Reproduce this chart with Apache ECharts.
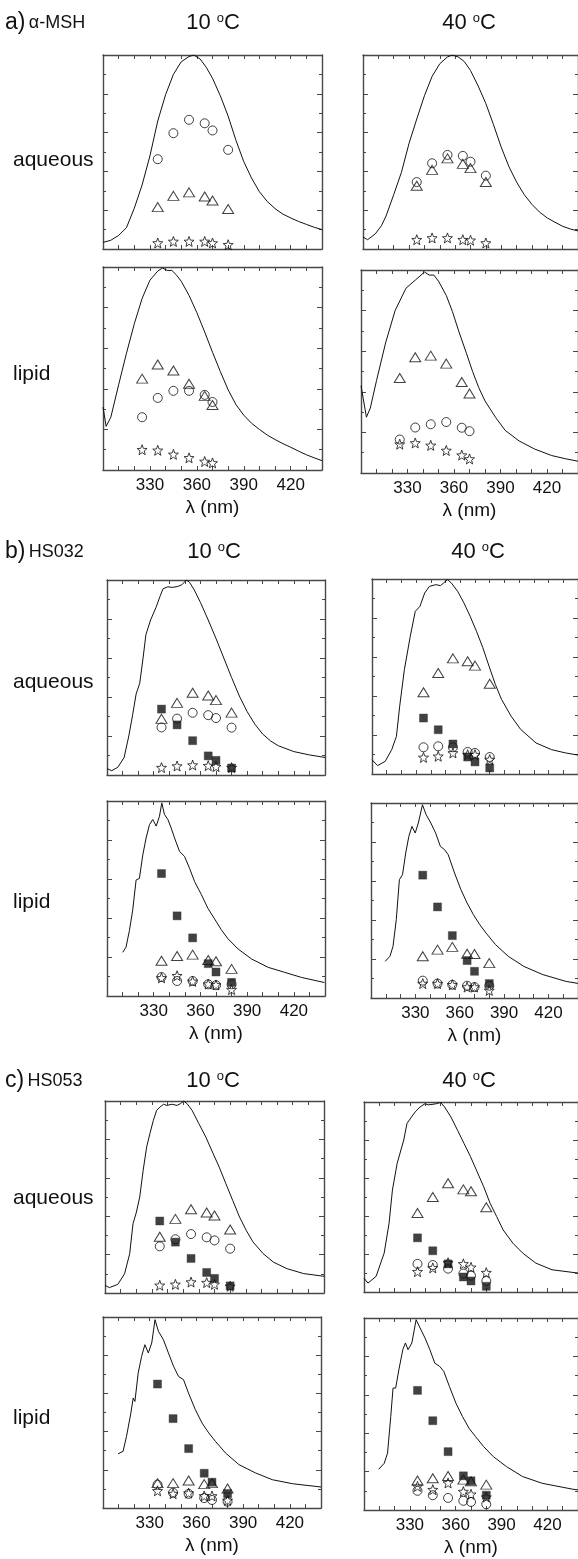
<!DOCTYPE html>
<html><head><meta charset="utf-8">
<script src="https://cdn.jsdelivr.net/npm/echarts@6/dist/echarts.min.js"></script>
<style>html,body{margin:0;padding:0;background:#fff}#c{width:578px;height:1559px}</style>
</head><body><div id="c"></div>
<script>
// ---------------- DATA ----------------
const xTickLabels = [330, 360, 390, 420];
const wlAaq = [335, 345, 355, 365, 370, 380];
const wlAlip = [325, 335, 345, 355, 365, 370];
const wlBC = [335, 345, 355, 365, 370, 380];

// a) alpha-MSH, aqueous 10 C
const aAq10Wl = [300,305,310,315,320,325,330,335,340,345,350,355,358,362,366,370,375,380,385,390,395,400,405,410,415,420,425,430,435,440];
const aAq10I  = [0.34,0.45,0.7,1.1,2.1,3.3,4.8,6.6,7.95,9.0,9.65,9.92,10,9.8,9.37,8.8,7.9,6.85,5.6,4.5,3.65,2.95,2.45,2.08,1.8,1.6,1.42,1.27,1.12,1.0];
const aAq10Circ = [4.63,5.97,6.66,6.48,6.11,5.11];
const aAq10Tri  = [2.16,2.74,2.92,2.71,2.50,2.06];
const aAq10Star = [0.31,0.39,0.39,0.39,0.31,0.22];
// a) aqueous 40 C
const aAq40Wl = [300,303,308,312,315,320,325,330,335,340,345,350,355,358,362,366,370,375,380,385,390,395,400,405,410,415,420,425,430,435,440];
const aAq40I  = [0.62,0.48,0.78,1.2,1.7,2.8,3.95,5.45,6.7,7.9,8.9,9.55,9.9,10,9.9,9.66,9.2,8.4,7.5,6.4,5.25,4.25,3.45,2.8,2.3,1.9,1.6,1.38,1.17,1.03,0.93];
const aAq40Circ = [3.45,4.42,4.85,4.8,4.5,3.78];
const aAq40Tri  = [3.26,4.08,4.67,4.39,4.17,3.45];
const aAq40Star = [0.48,0.57,0.57,0.48,0.45,0.31];
// a) lipid 10 C
const aLip10Wl = [300,302,305,310,315,320,325,330,335,338,341,344,347,350,355,360,365,370,375,380,385,390,395,400,405,410,415,420,425,430,435,440];
const aLip10I  = [3.1,2.15,2.6,4.2,5.75,7.2,8.45,9.35,9.8,9.95,9.83,9.83,9.6,9.3,8.6,7.75,6.8,5.8,4.85,3.95,3.22,2.7,2.3,2.0,1.72,1.5,1.3,1.12,0.93,0.75,0.6,0.46];
const aLip10Tri  = [4.5,5.2,4.9,4.25,3.65,3.2];
const aLip10Circ = [2.6,3.55,3.9,3.9,3.7,3.35];
const aLip10Star = [1.0,0.97,0.77,0.6,0.42,0.35];
// a) lipid 40 C
const aLip40Wl = [300,303.5,306,310,316,322,329,335,341,344,347,350,355,359,363,368,372,376,380,387,393,402,412,423,432,440];
const aLip40I  = [4.3,2.75,3.2,4.55,6.45,8.0,9.1,9.5,9.9,9.75,9.75,9.45,8.75,7.95,7.0,5.9,5.0,4.2,3.55,2.72,2.1,1.58,1.18,0.86,0.7,0.58];
const aLip40Tri  = [4.68,5.7,5.78,5.39,4.48,3.92];
const aLip40Circ = [1.65,2.24,2.4,2.51,2.23,2.06];
const aLip40Star = [1.42,1.48,1.36,1.11,0.88,0.69];

// b) HS032 aqueous 10 C
const bAq10Wl = [300,303,307,311,314,316.5,318.7,321,323,325,328,331.5,334,336,339,342,345.5,348,351,353,356,360,365,370,375,380,385,390,395,400,405,410,420,430,440];
const bAq10I  = [0.33,0.22,0.4,0.9,2.0,3.1,4.15,4.7,5.9,7.2,7.95,8.6,9.15,9.55,9.65,9.62,9.67,9.75,10,9.88,9.5,8.85,7.95,7.0,6.0,5.0,4.05,3.25,2.6,2.1,1.75,1.5,1.2,1.03,0.9];
const bAq10Sq   = [3.38,2.57,1.76,0.98,0.75,0.36];
const bAq10Tri  = [2.88,3.7,4.22,4.08,3.84,3.2];
const bAq10Circ = [2.44,2.89,3.19,3.07,2.92,2.43];
const bAq10Star = [0.38,0.46,0.51,0.48,0.43,0.38];
// b) aqueous 40 C
const bAq40Wl = [300,303.8,309,313.4,316.6,318.8,322,326,329.4,330.5,332.6,335.8,339,343.3,346.5,348.6,351.4,354,358.2,362.5,366.7,371,375.3,379.5,383.8,388,394.5,401,411.5,422,431.6,440];
const bAq40I  = [0.73,0.43,0.65,1.25,1.93,3.47,5.35,7.06,8.34,8.3,8.6,9.28,9.62,9.71,9.66,9.79,9.97,9.79,9.37,8.77,8.09,7.32,6.48,5.54,4.6,3.83,2.97,2.29,1.59,1.25,1.08,0.97];
const bAq40Sq   = [2.87,2.27,1.54,0.87,0.62,0.31];
const bAq40Tri  = [4.19,5.18,5.93,5.78,5.56,4.63];
const bAq40Circ = [1.37,1.42,1.37,1.13,1.08,0.87];
const bAq40Star = [0.85,0.91,1.08,0.99,0.99,0.74];
// b) lipid 10 C
const bLip10Wl = [310.1,312.2,314.4,316.5,318.7,320.8,323,325.1,327.3,329.4,331.6,333.7,335.2,336.9,339.1,341.2,343.4,346.6,349.8,353,356.3,360.6,364.8,369.1,373.4,377.7,384.2,392.8,403.5,414.2,425,439.6];
const bLip10I  = [2.24,2.5,3.36,4.4,5.95,6.03,7.24,8.1,8.79,9.05,8.71,9.22,9.9,9.31,9.05,8.62,8.1,7.41,7.16,6.55,5.86,5.2,4.5,3.95,3.4,2.93,2.41,1.9,1.47,1.21,0.95,0.69];
const bLip10Sq   = [6.28,4.11,2.98,1.66,1.23,0.7];
const bLip10Tri  = [1.81,2.05,2.12,1.85,1.78,1.39];
const bLip10Circ = [0.97,0.77,0.77,0.6,0.55,0.6];
const bLip10Star = [0.93,1.04,0.75,0.61,0.57,0.33];
// b) lipid 40 C
const bLip40Wl = [309.6,312.8,314.9,317.1,319.2,321.3,323.5,325.6,327.7,329.9,332,334.8,337.3,340.5,343.7,346.9,349.7,352.2,356.5,360.8,365,369.3,373.6,377.8,384.2,392.8,403.4,416.2,432,440];
const bLip40I  = [1.88,2.14,2.65,4.02,6.07,6.32,7.44,8.29,8.8,8.46,8.97,9.91,9.4,8.97,8.46,7.78,7.61,7.35,6.41,5.56,4.87,4.27,3.76,3.33,2.74,2.14,1.62,1.2,0.85,0.75];
const bLip40Sq   = [6.3,4.67,3.2,1.92,1.37,0.74];
const bLip40Tri  = [2.14,2.48,2.62,2.27,2.26,1.79];
const bLip40Circ = [0.89,0.74,0.68,0.63,0.56,0.63];
const bLip40Star = [0.74,0.74,0.68,0.56,0.56,0.39];

// c) HS053 aqueous 10 C
const cAq10Wl = [300,302.8,308.2,312.5,315.8,317.9,320.1,322.2,324.4,326.6,328.7,330.9,333,335.2,337.4,339.5,342.8,346,348.2,350.3,352.5,355.7,360,364.4,368.7,373,377.3,381.6,386,390.3,394.6,401.1,407.6,416.2,427,440];
const cAq10I  = [0.4,0.28,0.45,1.0,2.05,3.61,4.22,5.0,6.39,7.6,8.3,8.99,9.51,9.69,9.83,9.77,9.83,9.77,9.86,10,9.86,9.51,8.82,8.13,7.34,6.56,5.69,4.83,3.96,3.26,2.66,2.05,1.61,1.27,1.01,0.87];
const cAq10Sq   = [3.75,2.65,1.8,1.07,0.76,0.37];
const cAq10Tri  = [2.93,3.86,4.36,4.19,4.04,3.31];
const cAq10Circ = [2.43,2.8,3.07,2.9,2.74,2.31];
const cAq10Star = [0.4,0.45,0.57,0.54,0.45,0.35];
// c) aqueous 40 C
const cAq40Wl = [300,302.6,307.9,313.2,316.4,318.6,321.7,326,328.1,329.2,330.3,333.5,336.7,339.9,342,345.2,347.3,350.1,352.7,356.9,361.2,365.5,369.7,374,378.3,382.5,386.8,391,397.4,403.8,412.4,423,436.7,440];
const cAq40I  = [0.73,0.47,0.82,2.05,3.62,5.37,6.77,8.0,8.86,9.0,8.9,9.48,9.74,9.91,9.85,9.88,9.91,9.98,9.74,9.21,8.51,7.81,7.12,6.33,5.54,4.67,3.97,3.27,2.57,2.05,1.52,1.17,1.03,1.0];
const cAq40Sq   = [2.85,2.17,1.48,0.79,0.58,0.3];
const cAq40Tri  = [4.16,5.0,5.72,5.4,5.3,4.46];
const cAq40Circ = [1.48,1.42,1.23,0.97,0.86,0.58];
const cAq40Star = [1.07,1.27,1.54,1.48,1.3,1.02];
// c) lipid 10 C
const cLip10Wl = [309.7,312.9,315.1,317.9,319.4,320.5,322.6,324.8,326.9,329.1,331.3,333.4,335.6,338.8,342,345.3,348.5,351.7,354.9,359.3,363.6,367.9,372.2,378.7,387.3,398.1,408.8,421.8,440];
const cLip10I  = [2.84,2.97,3.75,4.97,5.76,5.58,7.07,7.94,8.55,8.12,8.64,9.86,9.25,8.81,8.12,7.42,6.89,6.72,6.02,5.15,4.45,3.93,3.49,2.88,2.27,1.83,1.48,1.27,1.1];
const cLip10Sq   = [6.49,4.68,3.11,1.82,1.35,0.76];
const cLip10Tri  = [1.3,1.3,1.44,1.25,1.3,1.02];
const cLip10Circ = [1.22,0.8,0.74,0.52,0.42,0.33];
const cLip10Star = [0.9,0.75,0.78,0.63,0.63,0.4];
// c) lipid 40 C
const cLip40Wl = [309.6,313.2,315.4,317.5,319,320.7,322.8,325.4,327.1,328.8,331.3,334.1,336.7,339.9,343.1,346.3,349.5,352.2,355.9,360.1,364.4,368.7,372.9,378.3,384.6,393.2,403.8,416.6,436.7,440];
const cLip40I  = [2.12,2.43,2.96,4.87,6.35,6.35,7.3,8.35,8.7,8.35,8.7,9.91,9.48,8.96,8.35,7.65,7.48,7.22,6.43,5.57,4.87,4.26,3.83,3.3,2.78,2.26,1.74,1.39,1.08,1.05];
const cLip40Sq   = [6.23,4.65,3.04,1.78,1.52,0.77];
const cLip40Tri  = [1.54,1.65,1.77,1.58,1.5,1.32];
const cLip40Circ = [1.0,0.77,0.63,0.48,0.42,0.3];
const cLip40Star = [1.23,1.06,1.41,0.96,0.82,0.67];

// ---------------- LAYOUT ----------------
const FONT = '"Liberation Sans", Arial, Helvetica, sans-serif';
const INK = '#111';
const FRAME = '#484848';
const STAR = 'path://M10 0 L12.47 6.6 L19.51 6.91 L13.99 11.3 L15.88 18.09 L10 14.2 L4.12 18.09 L6.01 11.3 L0.49 6.91 L7.53 6.6 Z';

const panels = [
  {box:[103,55,219,194],  lipid:false, wl:wlAaq,  cw:aAq10Wl, ci:aAq10I, tri:aAq10Tri, circ:aAq10Circ, star:aAq10Star},
  {box:[363,55,219,194],  lipid:false, wl:wlAaq,  cw:aAq40Wl, ci:aAq40I, tri:aAq40Tri, circ:aAq40Circ, star:aAq40Star},
  {box:[103,267,219,203], lipid:true,  wl:wlAlip, cw:aLip10Wl, ci:aLip10I, tri:aLip10Tri, circ:aLip10Circ, star:aLip10Star},
  {box:[361,270,219,203], lipid:true,  wl:wlAlip, cw:aLip40Wl, ci:aLip40I, tri:aLip40Tri, circ:aLip40Circ, star:aLip40Star},
  {box:[107,580,218,195], lipid:false, wl:wlBC, cw:bAq10Wl, ci:bAq10I, sq:bAq10Sq, tri:bAq10Tri, circ:bAq10Circ, star:bAq10Star},
  {box:[372,579,219,195], lipid:false, wl:wlBC, cw:bAq40Wl, ci:bAq40I, sq:bAq40Sq, tri:bAq40Tri, circ:bAq40Circ, star:bAq40Star},
  {box:[107,801,218,195], lipid:true,  wl:wlBC, cw:bLip10Wl, ci:bLip10I, sq:bLip10Sq, tri:bLip10Tri, circ:bLip10Circ, star:bLip10Star},
  {box:[371,803,219,195], lipid:true,  wl:wlBC, cw:bLip40Wl, ci:bLip40I, sq:bLip40Sq, tri:bLip40Tri, circ:bLip40Circ, star:bLip40Star},
  {box:[105,1101,219,192],lipid:false, wl:wlBC, cw:cAq10Wl, ci:cAq10I, sq:cAq10Sq, tri:cAq10Tri, circ:cAq10Circ, star:cAq10Star},
  {box:[364,1102,219,190],lipid:false, wl:wlBC, cw:cAq40Wl, ci:cAq40I, sq:cAq40Sq, tri:cAq40Tri, circ:cAq40Circ, star:cAq40Star},
  {box:[103,1317,218,191],lipid:true,  wl:wlBC, cw:cLip10Wl, ci:cLip10I, sq:cLip10Sq, tri:cLip10Tri, circ:cLip10Circ, star:cLip10Star},
  {box:[364,1318,219,192],lipid:true,  wl:wlBC, cw:cLip40Wl, ci:cLip40I, sq:cLip40Sq, tri:cLip40Tri, circ:cLip40Circ, star:cLip40Star}
];

function pairs(xs, ys) { return xs.map((x, i) => [x, ys[i]]); }

const grid = [], xAxis = [], yAxis = [], series = [];
const tickStyle = {color: FRAME, width: 1};
panels.forEach((p, i) => {
  grid.push({left: p.box[0], top: p.box[1], width: p.box[2], height: p.box[3], containLabel: false});
  ['bottom', 'top'].forEach(pos => {
    xAxis.push({
      gridIndex: i, type: 'value', position: pos, min: 300, max: 440, interval: 10,
      axisLine: {show: true, onZero: false, lineStyle: {color: FRAME, width: 1.4}},
      axisTick: {show: true, inside: true, length: 4, lineStyle: tickStyle},
      splitLine: {show: false},
      axisLabel: {
        show: pos === 'bottom' && p.lipid, margin: 7, fontSize: 17, color: INK, fontFamily: FONT,
        showMinLabel: false, showMaxLabel: false,
        formatter: v => (xTickLabels.indexOf(v) >= 0 ? String(v) : '')
      },
      name: (pos === 'bottom' && p.lipid) ? 'λ (nm)' : '',
      nameLocation: 'middle', nameGap: 28,
      nameTextStyle: {fontSize: 19, color: INK, fontFamily: FONT}
    });
  });
  ['left', 'right'].forEach(pos => {
    yAxis.push({
      gridIndex: i, type: 'value', position: pos, min: 0, max: 10, interval: 2,
      axisLine: {show: true, onZero: false, lineStyle: {color: FRAME, width: 1.4}},
      axisTick: {show: true, inside: true, length: 5, lineStyle: tickStyle},
      minorTick: {show: true, splitNumber: 2, length: 3, lineStyle: tickStyle},
      splitLine: {show: false}, minorSplitLine: {show: false},
      axisLabel: {show: false}
    });
  });
  const xi = 2 * i, yi = 2 * i;
  series.push({type: 'line', xAxisIndex: xi, yAxisIndex: yi, data: pairs(p.cw, p.ci),
    symbol: 'none', showSymbol: false, silent: true, z: 2,
    lineStyle: {color: INK, width: 1}});
  const hollow = {color: 'rgba(0,0,0,0)', borderColor: INK, borderWidth: 1};
  if (p.sq) series.push({type: 'scatter', xAxisIndex: xi, yAxisIndex: yi, data: pairs(p.wl, p.sq),
    symbol: 'rect', symbolSize: 8, z: 3, itemStyle: {color: INK, borderColor: '#333', borderWidth: 0.5}});
  series.push({type: 'scatter', xAxisIndex: xi, yAxisIndex: yi, data: pairs(p.wl, p.tri),
    symbol: 'triangle', symbolSize: [11, 9], z: 4, itemStyle: hollow});
  series.push({type: 'scatter', xAxisIndex: xi, yAxisIndex: yi, data: pairs(p.wl, p.circ),
    symbol: 'circle', symbolSize: 9, z: 4, itemStyle: hollow});
  series.push({type: 'scatter', xAxisIndex: xi, yAxisIndex: yi, data: pairs(p.wl, p.star),
    symbol: STAR, symbolSize: 10, z: 4, itemStyle: hollow});
});

function txt(x, y, text, size, align) {
  return {type: 'text', x: x, y: y, silent: true,
    style: {text: text, fill: INK, font: size + 'px ' + FONT, fontSize: size, fontFamily: FONT,
      align: align || 'left', verticalAlign: 'middle', textAlign: align || 'left', textVerticalAlign: 'middle'}};
}
function richTxt(x, y, text, rich, align) {
  return {type: 'text', x: x, y: y, silent: true,
    style: {text: text, rich: rich, fill: INK, fontFamily: FONT,
      align: align || 'left', verticalAlign: 'middle', textAlign: align || 'left', textVerticalAlign: 'middle'}};
}
const labelRich = {big: {fontSize: 23, fontFamily: FONT, fill: INK, color: INK}, sm: {fontSize: 18, fontFamily: FONT, fill: INK, color: INK}};
const degRich = {n: {fontSize: 22, fontFamily: FONT, fill: INK, color: INK},
                 s: {fontSize: 13, fontFamily: FONT, fill: INK, color: INK, verticalAlign: 'top'}};
const T10 = '{n|10 }{s|o}{n|C}', T40 = '{n|40 }{s|o}{n|C}';

const graphic = [
  richTxt(5, 23, '{big|a)} {sm|α-MSH}', labelRich),
  richTxt(213, 23, T10, degRich, 'center'),
  richTxt(469, 23, T40, degRich, 'center'),
  richTxt(5, 552, '{big|b)} {sm|HS032}', labelRich),
  richTxt(214, 552, T10, degRich, 'center'),
  richTxt(478, 552, T40, degRich, 'center'),
  richTxt(5, 1081, '{big|c)} {sm|HS053}', labelRich),
  richTxt(213, 1081, T10, degRich, 'center'),
  richTxt(469, 1081, T40, degRich, 'center'),
  txt(13, 160, 'aqueous', 21), txt(13, 374, 'lipid', 21),
  txt(13, 682, 'aqueous', 21), txt(13, 902, 'lipid', 21),
  txt(13, 1198, 'aqueous', 21), txt(13, 1418, 'lipid', 21)
];

const chart = echarts.init(document.getElementById('c'), null, {renderer: 'canvas'});
chart.setOption({animation: false, backgroundColor: '#fff', grid, xAxis, yAxis, series, graphic});
</script></body></html>
